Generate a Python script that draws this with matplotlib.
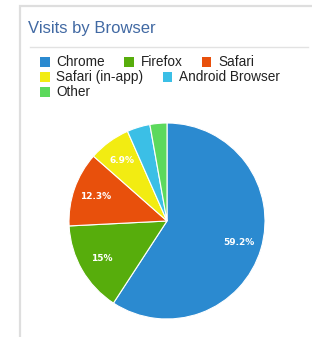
import matplotlib
matplotlib.use("Agg")
import matplotlib.pyplot as plt
from matplotlib.patches import Rectangle
from matplotlib.lines import Line2D

title = "Visits by Browser"
browsers = ["Chrome", "Firefox", "Safari", "Safari (in-app)", "Android Browser", "Other"]
shares = [59.2, 15.0, 12.3, 6.9, 3.8, 2.8]
colors = ["#2b8ad0", "#57ad0c", "#e8500c", "#f2ec12", "#3bbfe6", "#5cd95c"]

W, H = 312, 337
fig = plt.figure(figsize=(W / 100, H / 100), dpi=100)
fig.patch.set_facecolor("white")

def fx(px):
    return px / W

def fy(py):
    return 1 - py / H

# panel frame
fig.add_artist(Rectangle((fx(20), fy(H + 5)), fx(W), (H + 5 - 6) / H,
                         transform=fig.transFigure, facecolor="white",
                         edgecolor="#dedede", lw=1.6, zorder=-5))
fig.text(fx(28), fy(28), title, color="#4169a3", fontsize=12,
         va="center", ha="left", family="Liberation Sans")
fig.add_artist(Line2D([fx(30), fx(308)], [fy(47), fy(47)],
                      transform=fig.transFigure, color="#e2e2e2", lw=1.0))

# legend with flow layout
renderer = fig.canvas.get_renderer()
x0, x, y = 40, 40, 62
row_h = 15
max_x = 292
sq = 9.5
for name, col in zip(browsers, colors):
    t = fig.text(0, 0, name, fontsize=9.8, family="Liberation Sans",
                 color="#222222", va="center", ha="left")
    tw = t.get_window_extent(renderer).width
    need = sq + 7 + tw
    if x + need > max_x and x != x0:
        x = x0
        y += row_h
    fig.add_artist(Rectangle((fx(x), fy(y + sq / 2)), fx(sq), sq / H,
                             transform=fig.transFigure, facecolor=col,
                             edgecolor="none"))
    t.set_position((fx(x + sq + 7), fy(y)))
    x += need + 19

# pie
cx, cy, r = 167, 221, 98
ax = fig.add_axes([fx(cx - r), fy(cy + r), 2 * r / W, 2 * r / H])

def fmt(p):
    if p < 5:
        return ""
    s = f"{p:.1f}"
    if s.endswith(".0"):
        s = s[:-2]
    return s + "%"

wedges, texts, autotexts = ax.pie(
    shares, colors=colors, startangle=90, counterclock=False,
    autopct=fmt, pctdistance=0.77,
    wedgeprops=dict(edgecolor="white", linewidth=0.8),
    textprops=dict(color="white", fontsize=6.5, fontweight="bold",
                   family="DejaVu Sans"))
ax.set_xlim(-1, 1)
ax.set_ylim(-1, 1)
ax.set_aspect("equal")
ax.axis("off")

fig.savefig("out.png", dpi=100, facecolor="white")
